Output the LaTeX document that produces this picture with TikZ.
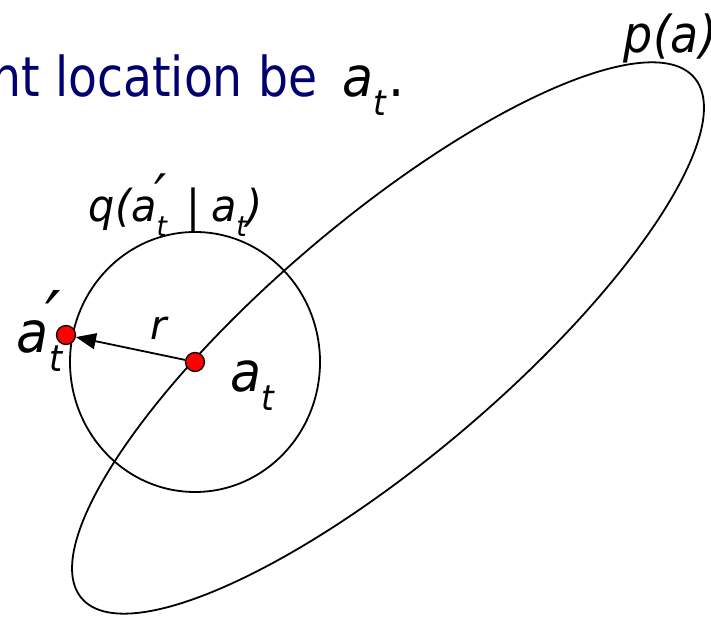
\documentclass[tikz,border=0pt]{standalone}
\usepackage{fontspec}
\usepackage{graphicx}
\usetikzlibrary{arrows.meta}
\newfontfamily\tah{DejaVu Sans}
\definecolor{navy}{RGB}{0,0,110}
\newcommand\lbl[3]{\scalebox{#2}[1]{\fontsize{#1}{#1}\selectfont\tah #3}}
\newcommand\sbs[1]{\raisebox{-0.33em}{\scalebox{0.64}{#1}}}
\newcommand\prm{\rlap{\kern-0.06em\raisebox{0.15em}{\scalebox{1.3}{′}}}}
\begin{document}
\begin{tikzpicture}[x=1pt,y=1pt,line width=1.8pt,
  dot/.style={circle,draw=black,fill=red,line width=1.3pt,minimum size=19pt,inner sep=0pt},
  lab/.style={inner sep=0pt,anchor=base west}]
\useasboundingbox (0,0) rectangle (711,617);
% p(a) ellipse
\draw[rotate around={40.35:(388,279)}] (388,279) ellipse [x radius=402pt, y radius=119pt];
% q circle
\draw (195,255) ellipse [x radius=125pt, y radius=130pt];
% dots
\node[dot] (at) at (195,255) {};
\node[dot] (ap) at (66,282) {};
\draw[-{Triangle[length=20pt,width=16pt]}] (at) -- (ap);
% texts
\node[lab,anchor=base east] (head) at (318,520) {\lbl{55}{0.86}{\color{navy}nt location be}};
\node[lab] (headat) at (342,520) {\lbl{55}{0.92}{\itshape a\sbs{t}\kern0.04em\upshape.}};
\node[lab] (pa) at (623,564) {\lbl{51}{0.9}{\itshape p(a)}};
\node[lab] (q) at (88,395) {\lbl{44}{0.94}{\itshape q(a\prm\sbs{t}\kern21pt\upshape|\kern11pt\itshape a\sbs{t})}};
\node[lab] (r) at (150,277) {\lbl{40}{1}{\itshape r}};
\node[lab] (aplab) at (16,264) {\lbl{57}{0.92}{\itshape a\prm\sbs{t}}};
\node[lab] (atlab) at (230,225) {\lbl{55}{0.92}{\itshape a\sbs{t}}};
\end{tikzpicture}
\end{document}
